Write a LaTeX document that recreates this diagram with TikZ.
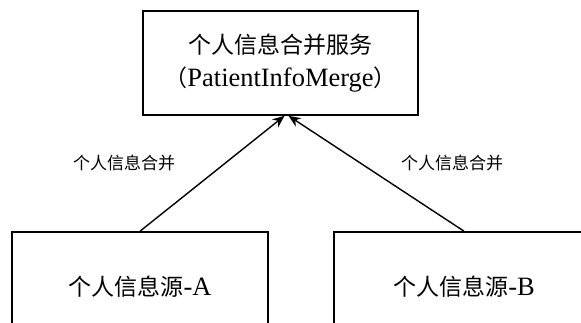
\documentclass[tikz,border=0pt]{standalone}
\usepackage{fontspec}
\newfontfamily\cjk{Noto Sans CJK SC}
\newfontfamily\latin[Scale=1.15]{Liberation Serif}
\usetikzlibrary{arrows.meta}

\tikzset{
	box/.style={draw,line width=1.6pt,inner sep=0pt},
	big/.style={font=\cjk\fontsize{23}{33}\selectfont},
	lbl/.style={font=\cjk\fontsize{17}{20}\selectfont},
	merge/.style={-{Stealth[length=12pt,width=10pt]},line width=1.4pt}
}

\begin{document}
\begin{tikzpicture}[x=1pt,y=-1pt]
		\useasboundingbox (0,0) rectangle (581,322);
		\clip (0,0) rectangle (581,322);
		\node[box,big,minimum width=275pt,minimum height=104pt,align=center] (merge) at (280.5,63)
			{个人信息合并服务\\（{\latin PatientInfoMerge}）};
		\node[box,big,minimum width=256pt,minimum height=110pt] (srcA) at (140,287)
			{个人信息源{\latin -A}};
		\node[box,big,minimum width=260pt,minimum height=110pt] (srcB) at (464,287)
			{个人信息源{\latin -B}};
		% connectors
		\draw[merge] (srcA.north) -- ([xshift=4pt]merge.south);
		\draw[merge] (srcB.north) -- ([xshift=8pt]merge.south);
		\node[lbl] (lblA) at (124,163) {个人信息合并};
		\node[lbl] (lblB) at (452,163) {个人信息合并};
\end{tikzpicture}
\end{document}
